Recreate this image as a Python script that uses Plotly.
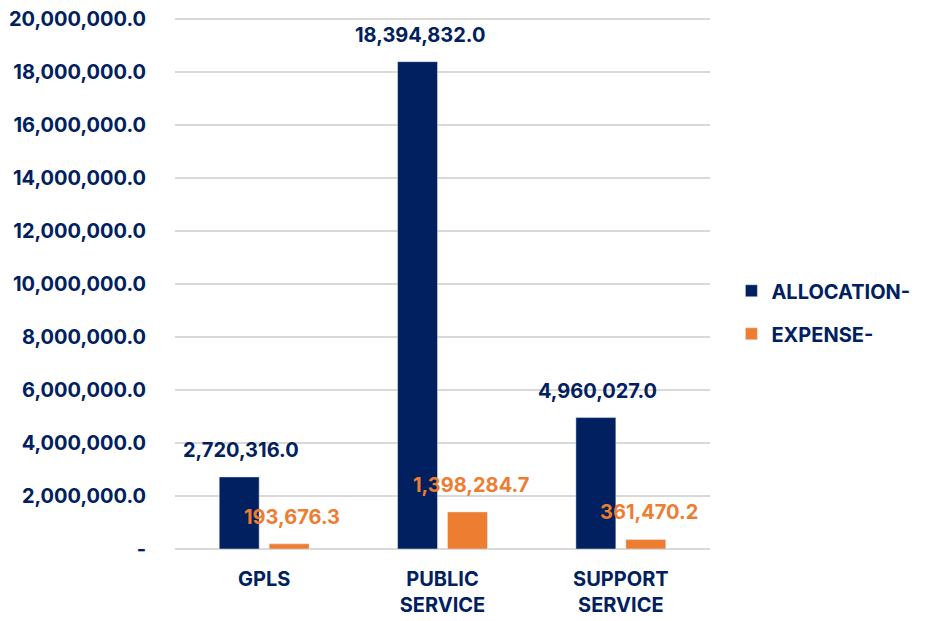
import plotly.graph_objects as go

# ── data ─────────────────────────────────────────────────────────────────────
categories = ["GPLS", "PUBLIC<br>SERVICE", "SUPPORT<br>SERVICE"]
allocation = [2720316.0, 18394832.0, 4960027.0]
expense = [193676.3, 1398284.7, 361470.2]

tick_vals = [0, 2e6, 4e6, 6e6, 8e6, 10e6, 12e6, 14e6, 16e6, 18e6, 20e6]
tick_text = ["-"] + [f"{v:,.1f}" for v in tick_vals[1:]]

NAVY = "#002060"
ORANGE = "#ED7D31"
FONT = "Inter, Liberation Sans, Arial, sans-serif"
SIZE = 20

fig = go.Figure()
fig.add_trace(go.Bar(
    x=categories, y=allocation, name="ALLOCATION-",
    marker_color=NAVY, legendgroup="a",
))
fig.add_trace(go.Bar(
    x=categories, y=expense, name="EXPENSE-",
    marker_color=ORANGE, legendgroup="b",
))

# value labels sit a bit above each bar
for cat, a, e in zip(categories, allocation, expense):
    fig.add_annotation(x=cat, y=a, text=f"{a:,.1f}", showarrow=False,
                       xshift=-23, yshift=27,
                       font=dict(color=NAVY, size=SIZE, family=FONT, weight="bold"))
    fig.add_annotation(x=cat, y=e, text=f"{e:,.1f}", showarrow=False,
                       xshift=28, yshift=27,
                       font=dict(color=ORANGE, size=SIZE, family=FONT, weight="bold"))

# page body has an 8px margin, so margins are trimmed by 8 on the top/left
# range runs a hair past 20M so the top gridline gets drawn
fig.update_layout(
    width=927, height=621,
    barmode="group", bargap=0.44, bargroupgap=0.2,
    plot_bgcolor="white", paper_bgcolor="white",
    margin=dict(l=167, r=225, t=9, b=80, autoexpand=False),
    font=dict(family=FONT, size=SIZE, color=NAVY, weight="bold"),
    legend=dict(
        x=1.04, y=0.445, xanchor="left", yanchor="middle",
        font=dict(size=SIZE, color=NAVY, family=FONT, weight="bold"),
        tracegroupgap=14,
    ),
    xaxis=dict(showline=False, ticks="", automargin=False,
               ticklabelstandoff=16, tickfont=dict(size=SIZE)),
    yaxis=dict(
        range=[0, 20.08e6], tickvals=tick_vals, ticktext=tick_text,
        gridcolor="#D9D9D9", gridwidth=1.5, zeroline=True,
        zerolinecolor="#D9D9D9", zerolinewidth=1.5, automargin=False,
        ticklabelstandoff=28, ticklabeloverflow="allow",
        tickfont=dict(size=SIZE),
    ),
)

fig.write_html("out.html")
